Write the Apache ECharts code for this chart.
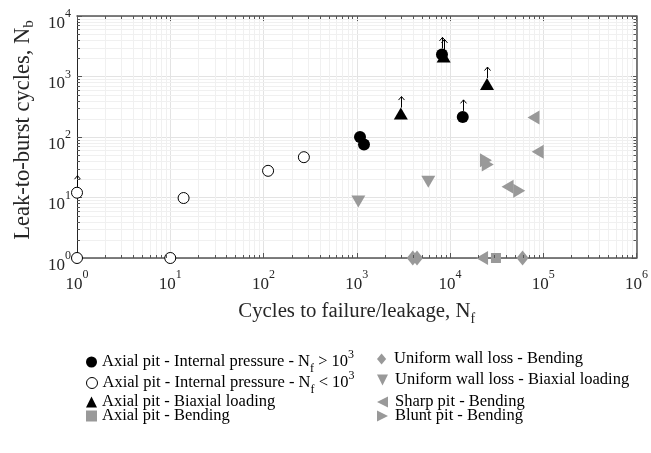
<!DOCTYPE html>
<html><head><meta charset="utf-8">
<script src="https://cdn.jsdelivr.net/npm/echarts@6/dist/echarts.min.js"></script>
<style>html,body{margin:0;padding:0;background:#fff}#c{width:651px;height:453px}</style>
</head><body><div id="c"></div>
<script>
// ---------- data ----------
const X_TICK_EXP = [0, 1, 2, 3, 4, 5, 6];
const Y_TICK_EXP = [0, 1, 2, 3, 4];

const NAMES = [
  'Axial pit - Internal pressure - Nf > 10^3',
  'Axial pit - Internal pressure - Nf < 10^3',
  'Axial pit - Biaxial loading',
  'Axial pit - Bending',
  'Uniform wall loss - Bending',
  'Uniform wall loss - Biaxial loading',
  'Sharp pit - Bending',
  'Blunt pit - Bending'
];
const LEGEND_LABELS = [
  'Axial pit - Internal pressure - N{sub|f} > 10{sup|3}',
  'Axial pit - Internal pressure - N{sub|f} < 10{sup|3}',
  'Axial pit - Biaxial loading',
  'Axial pit - Bending',
  'Uniform wall loss - Bending',
  'Uniform wall loss - Biaxial loading',
  'Sharp pit - Bending',
  'Blunt pit - Bending'
];

const pitPressureHigh = [[1084, 100], [1196, 75], [8200, 2320], [13700, 215]];
const pitPressureLow  = [[1, 12], [1, 1], [10, 1], [13.9, 9.8], [112, 27.6], [271, 46.4]];
const pitBiaxial      = [[2970, 244], [8550, 2150], [24950, 750]];
const pitBending      = [[31100, 1]];
const uniformBending  = [[3990, 1], [4430, 1], [60000, 1]];
const uniformBiaxial  = [[1040, 8.6], [5850, 18.2]];
const sharpBending    = [[78600, 210], [87200, 57], [41400, 15], [22060, 1]];
const bluntBending    = [[24300, 41.4], [25400, 35.2], [55300, 12.9]];
// run-outs (arrow marks: test stopped before burst)
const runouts = [[1, 12], [8200, 2320], [13700, 215], [2970, 244], [8550, 2150], [24950, 750]];

// ---------- style ----------
const FONT = 'Liberation Serif';
const GRAY = '#999999';
const AXIS_COLOR = '#555555';
const X_MIN = Math.pow(10, X_TICK_EXP[0]), X_MAX = Math.pow(10, X_TICK_EXP[X_TICK_EXP.length - 1]);
const Y_MIN = Math.pow(10, Y_TICK_EXP[0]), Y_MAX = Math.pow(10, Y_TICK_EXP[Y_TICK_EXP.length - 1]);

const UP = 'path://M5,0L10,10L0,10Z';
const DOWN = 'path://M0,0L10,0L5,10Z';
const LEFT = 'path://M10,0L10,10L0,5Z';
const RIGHT = 'path://M0,0L10,5L0,10Z';
const DIAMOND = 'path://M5,0L10,6L5,12L0,6Z';

function tickLabel(v) {
  const e = Math.round(Math.log10(v));
  return '{b|10}{sup|' + e + '}';
}
const tickRich = {
  b: { fontFamily: FONT, fontSize: 17, lineHeight: 24, color: '#262626', verticalAlign: 'bottom' },
  sup: { fontFamily: FONT, fontSize: 12, lineHeight: 24, color: '#262626', verticalAlign: 'top' }
};

function minorRender(params, api) {
  const children = [];
  const xs = [], ys = [];
  for (let d = X_TICK_EXP[0]; d < X_TICK_EXP[X_TICK_EXP.length - 1]; d++)
    for (let k = 2; k <= 9; k++) xs.push(k * Math.pow(10, d));
  for (let d = Y_TICK_EXP[0]; d < Y_TICK_EXP[Y_TICK_EXP.length - 1]; d++)
    for (let k = 2; k <= 9; k++) ys.push(k * Math.pow(10, d));
  xs.forEach(v => {
    const a = api.coord([v, Y_MIN]), b = api.coord([v, Y_MAX]);
    const x = Math.round(a[0]) + 0.5;
    children.push({ type: 'line', shape: { x1: x, y1: a[1], x2: x, y2: b[1] }, style: { stroke: '#f0f0f0', lineWidth: 1 } });
  });
  ys.forEach(v => {
    const a = api.coord([X_MIN, v]), b = api.coord([X_MAX, v]);
    const y = Math.round(a[1]) + 0.5;
    children.push({ type: 'line', shape: { x1: a[0], y1: y, x2: b[0], y2: y }, style: { stroke: '#f0f0f0', lineWidth: 1 } });
  });
  return { type: 'group', children };
}
function minorTickRender(params, api) {
  const children = [];
  const L = 3;
  for (let d = X_TICK_EXP[0]; d < X_TICK_EXP[X_TICK_EXP.length - 1]; d++)
    for (let k = 2; k <= 9; k++) {
      const v = k * Math.pow(10, d);
      const a = api.coord([v, Y_MIN]), b = api.coord([v, Y_MAX]);
      const x = Math.round(a[0]) + 0.5;
      children.push({ type: 'line', shape: { x1: x, y1: a[1], x2: x, y2: a[1] - L }, style: { stroke: AXIS_COLOR, lineWidth: 1 } });
      children.push({ type: 'line', shape: { x1: x, y1: b[1], x2: x, y2: b[1] + L }, style: { stroke: AXIS_COLOR, lineWidth: 1 } });
    }
  for (let d = Y_TICK_EXP[0]; d < Y_TICK_EXP[Y_TICK_EXP.length - 1]; d++)
    for (let k = 2; k <= 9; k++) {
      const v = k * Math.pow(10, d);
      const a = api.coord([X_MIN, v]), b = api.coord([X_MAX, v]);
      const y = Math.round(a[1]) + 0.5;
      children.push({ type: 'line', shape: { x1: a[0], y1: y, x2: a[0] + L, y2: y }, style: { stroke: AXIS_COLOR, lineWidth: 1 } });
      children.push({ type: 'line', shape: { x1: b[0], y1: y, x2: b[0] - L, y2: y }, style: { stroke: AXIS_COLOR, lineWidth: 1 } });
    }
  return { type: 'group', children };
}
function arrowRender(params, api) {
  const p = api.coord([api.value(0), api.value(1)]);
  const x = Math.round(p[0]) + 0.5;
  return {
    type: 'group', children: [
      { type: 'line', shape: { x1: x, y1: p[1] - 6, x2: x, y2: p[1] - 17 }, style: { stroke: '#000', lineWidth: 1 } },
      { type: 'polyline', shape: { points: [[x - 3, p[1] - 13.5], [x, p[1] - 17], [x + 3, p[1] - 13.5]] }, style: { stroke: '#000', fill: null, lineWidth: 1 } }
    ]
  };
}

function logAxis(extra) {
  return Object.assign({
    type: 'log', logBase: 10,
    axisLine: { show: true, onZero: false, lineStyle: { color: AXIS_COLOR, width: 1.5 } },
    axisTick: { show: true, inside: true, length: 5, lineStyle: { color: AXIS_COLOR } },
    splitLine: { show: false },
    axisLabel: { show: false }
  }, extra);
}

const LEGEND_POS = [
  { left: 86, top: 349 }, { left: 377, top: 349 },
  { left: 86, top: 370 }, { left: 377, top: 370 },
  { left: 86, top: 392 }, { left: 377, top: 392 },
  { left: 86, top: 406 }, { left: 377, top: 406 }
];
const LEGEND_ORDER = [0, 4, 1, 5, 2, 6, 3, 7];

const legendRich = {
  sub: { fontFamily: FONT, fontSize: 12, lineHeight: 26, verticalAlign: 'bottom', color: '#000' },
  sup: { fontFamily: FONT, fontSize: 12, lineHeight: 26, verticalAlign: 'top', color: '#000' }
};

const chart = echarts.init(document.getElementById('c'), null, { renderer: 'canvas' });
const solid = (c, extra) => Object.assign({ color: c, opacity: 1 }, extra || {});
const option = {
  animation: false,
  backgroundColor: '#fff',
  grid: { left: 77, top: 16, width: 562, height: 242, containLabel: false },
  xAxis: [
    logAxis({
      min: X_MIN, max: X_MAX, position: 'bottom',
      splitLine: { show: true, lineStyle: { color: '#e3e3e3', width: 1 } },
      axisLabel: { show: true, formatter: tickLabel, rich: tickRich, margin: 11 },
      name: 'Cycles to failure/leakage, N{sub|f}', nameLocation: 'middle', nameGap: 37,
      nameTextStyle: { fontFamily: FONT, fontSize: 20.8, color: '#262626', lineHeight: 28,
        rich: { sub: { fontFamily: FONT, fontSize: 14, lineHeight: 28, verticalAlign: 'bottom', color: '#262626' } } }
    }),
    logAxis({ min: X_MIN, max: X_MAX, position: 'top' })
  ],
  yAxis: [
    logAxis({
      min: Y_MIN, max: Y_MAX, position: 'left',
      axisLine: { show: true, onZero: false, lineStyle: { color: '#262626', width: 1 } },
      splitLine: { show: true, lineStyle: { color: '#e3e3e3', width: 1 } },
      axisLabel: { show: true, formatter: tickLabel, rich: tickRich, margin: 6, padding: [8, 0, 0, 0] },
      name: 'Leak-to-burst cycles, N{sub|b}', nameLocation: 'middle', nameGap: 40, nameRotate: 90,
      nameTextStyle: { fontFamily: FONT, fontSize: 22.5, color: '#262626', lineHeight: 28, padding: [0, 0, 0, 14],
        rich: { sub: { fontFamily: FONT, fontSize: 15, lineHeight: 28, verticalAlign: 'bottom', color: '#262626' } } }
    }),
    logAxis({ min: Y_MIN, max: Y_MAX, position: 'right' })
  ],
  legend: LEGEND_ORDER.map((i, k) => ({
    data: [NAMES[i]],
    left: LEGEND_POS[k].left, top: LEGEND_POS[k].top,
    padding: 0, itemWidth: 11, itemHeight: 11, itemGap: 0,
    selectedMode: false,
    itemStyle: { borderWidth: i === 1 ? 1 : 0 },
    formatter: () => LEGEND_LABELS[i],
    textStyle: { fontFamily: FONT, fontSize: 16.5, color: '#000', lineHeight: 20, rich: legendRich,
      padding: [0, 0, 0, k % 2 === 1 ? 2 : 0] }
  })),
  series: [
    { type: 'custom', name: 'minorGrid', silent: true, z: 1, renderItem: minorRender, data: [[1, 1]] },
    { type: 'scatter', name: NAMES[0], data: pitPressureHigh, symbol: 'circle', symbolSize: 12, z: 3,
      itemStyle: solid('#000'), clip: false },
    { type: 'scatter', name: NAMES[1], data: pitPressureLow, symbol: 'circle', symbolSize: 11, z: 3,
      itemStyle: { color: '#fff', opacity: 1, borderColor: '#000', borderWidth: 1 }, clip: false },
    { type: 'scatter', name: NAMES[2], data: pitBiaxial, symbol: UP, symbolSize: [14, 12], z: 3,
      itemStyle: solid('#000'), clip: false },
    { type: 'scatter', name: NAMES[3], data: pitBending, symbol: 'rect', symbolSize: 10, z: 3,
      itemStyle: solid(GRAY), clip: false },
    { type: 'scatter', name: NAMES[4], data: uniformBending, symbol: DIAMOND, symbolSize: [12, 15], z: 3,
      itemStyle: solid(GRAY), clip: false },
    { type: 'scatter', name: NAMES[5], data: uniformBiaxial, symbol: DOWN, symbolSize: [14, 12], z: 3,
      itemStyle: solid(GRAY), clip: false },
    { type: 'scatter', name: NAMES[6], data: sharpBending, symbol: LEFT, symbolSize: [12, 14], z: 3,
      itemStyle: solid(GRAY), clip: false },
    { type: 'scatter', name: NAMES[7], data: bluntBending, symbol: RIGHT, symbolSize: [12, 14], z: 3,
      itemStyle: solid(GRAY), clip: false },
    { type: 'custom', name: 'runout', silent: true, z: 4, renderItem: arrowRender, data: runouts },
    { type: 'custom', name: 'minorTicks', silent: true, z: 5, renderItem: minorTickRender, data: [[1, 1]] }
  ]
};
chart.setOption(option);
</script></body></html>
